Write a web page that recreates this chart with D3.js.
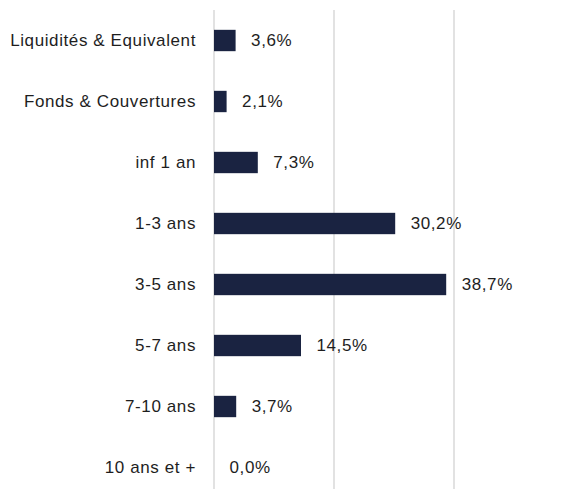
<!DOCTYPE html>
<html>
<head>
<meta charset="utf-8">
<script src="https://cdn.jsdelivr.net/npm/d3@7"></script>
<style>
  html, body { margin: 0; padding: 0; background: #fff; }
  svg { display: block; }
</style>
</head>
<body>
<div id="chartContainer"></div>
<script>
// Data
const categories = ["Liquidités & Equivalent", "Fonds & Couvertures", "inf 1 an", "1-3 ans", "3-5 ans", "5-7 ans", "7-10 ans", "10 ans et +"];
const values = [3.6, 2.1, 7.3, 30.2, 38.7, 14.5, 3.7, 0.0];
const gridTicks = [0, 20, 40];

function createChart() {
    const width = 561;
    const height = 489;

    const x = d3.scaleLinear()
        .domain([0, 40])
        .range([214, 454]);

    const y = d3.scaleBand()
        .domain(categories)
        .range([10, 498])
        .paddingInner(0.65)
        .paddingOuter(0.325);

    const fr = d3.formatLocale({ decimal: ",", thousands: " ", grouping: [3], currency: ["", " €"] });
    const fmt = v => fr.format(".1f")(v) + "%";

    const svg = d3.create("svg")
        .attr("width", width)
        .attr("height", height)
        .attr("viewBox", `0 0 ${width} ${height}`)
        .style("font-family", "'Liberation Sans', Arial, Helvetica, sans-serif");

    // Vertical gridlines (the first one doubles as the axis)
    svg.append("g")
        .selectAll("line")
        .data(gridTicks)
        .join("line")
        .attr("x1", d => x(d))
        .attr("x2", d => x(d))
        .attr("y1", 10)
        .attr("y2", 498)
        .attr("stroke", "#d9d9d9")
        .attr("stroke-width", 1.5);

    // Bars
    svg.append("g")
        .selectAll("rect")
        .data(values)
        .join("rect")
        .attr("x", x(0))
        .attr("y", (d, i) => y(categories[i]))
        .attr("width", d => x(d) - x(0))
        .attr("height", y.bandwidth())
        .attr("fill", "#1a2341");

    // Value labels
    svg.append("g")
        .style("font-size", "17px")
        .style("letter-spacing", "0.6px")
        .attr("fill", "#1e1e1e")
        .selectAll("text")
        .data(values)
        .join("text")
        .attr("x", d => x(d) + 15.5)
        .attr("y", (d, i) => y(categories[i]) + y.bandwidth() / 2)
        .attr("dominant-baseline", "central")
        .text(d => fmt(d));

    // Category labels
    svg.append("g")
        .style("font-size", "17px")
        .style("letter-spacing", "0.6px")
        .attr("fill", "#1e1e1e")
        .attr("text-anchor", "end")
        .selectAll("text")
        .data(categories)
        .join("text")
        .attr("x", 196)
        .attr("y", d => y(d) + y.bandwidth() / 2)
        .attr("dominant-baseline", "central")
        .text(d => d);

    return svg.node();
}

document.getElementById("chartContainer").appendChild(createChart());
</script>
</body>
</html>
